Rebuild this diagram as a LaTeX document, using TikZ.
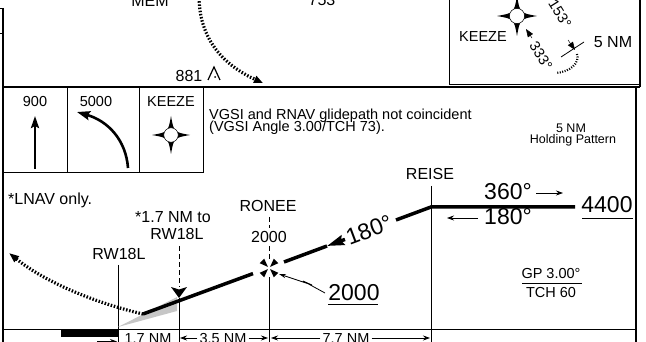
\documentclass[tikz,border=0pt]{standalone}
\usepackage{fontspec}
\setmainfont{Liberation Sans}
\usetikzlibrary{arrows.meta}

\tikzset{
  fixstar/.pic={
    \fill (1,0) .. controls (0.15,0.15) .. (0,1) .. controls (-0.15,0.15) .. (-1,0)
      .. controls (-0.15,-0.15) .. (0,-1) .. controls (0.15,-0.15) .. (1,0) -- cycle;
    \filldraw[fill=white, draw=black, line width=0.5pt] (0,0) circle (0.38);
  },
  fixcross/.pic={
    \foreach \a in {45,135,225,315}
      \fill[rotate=\a] (1.5,0) -- (10,-3.2) -- (10,3.2) -- cycle;
  }
}

\begin{document}
\begin{tikzpicture}[x=1pt, y=-1pt,
  every node/.style={inner sep=0pt},
  txttiny/.style={font=\fontsize{12.5}{14}\selectfont},
  txtsmall/.style={font=\fontsize{14.5}{16}\selectfont},
  txtmed/.style={font=\fontsize{16}{18}\selectfont},
  txtbig/.style={font=\fontsize{23}{25}\selectfont},
  borderline/.style={line width=2pt},
  ruleline/.style={line width=0.8pt},
  dashline/.style={line width=0.8pt, dash pattern=on 5pt off 3pt},
  course/.style={line width=3.5pt},
  rail/.style={line width=3.2pt, dash pattern=on 1.5pt off 1.7pt},
  railsmall/.style={line width=2.2pt, dash pattern=on 1pt off 1.5pt},
  thinarrow/.style={line width=0.8pt, -{Stealth[length=7pt,width=5pt]}}]
  \useasboundingbox (0,0) rectangle (646,342);
  \clip (0,0) rectangle (646,342);

  % frame
  \draw[ruleline] (0,8) -- (3,8);
  \draw[ruleline] (0,33) -- (2,33);
  \draw[borderline] (3,8) -- (3,342);
  \draw[borderline] (2,87) -- (640,87);
  \draw[ruleline] (449,0) -- (449,84) -- (640,84);
  \draw[borderline] (640,0) -- (640,87);
  \draw[borderline] (636,87) -- (636,342);
  \draw[ruleline] (3,329) -- (636,329);

  % plan view, upper panel
  \node[txtmed, anchor=base] (mem) at (150,7) {MEM};
  \node[txtmed, anchor=base] (alt753) at (322,6) {753};
  \coordinate (memin) at (199,-2);
  \coordinate (memout) at (263,83);
  \draw[rail, -{Triangle[length=9pt,width=7pt]}] (memin) .. controls (200,45) and (230,68) .. (memout);
  \node[txtmed, anchor=base] (obs881) at (189,82) {881};
  \coordinate (obs) at (214,67);
  \draw[line width=1.2pt] (208,80) -- (obs) -- (220,80);
  \fill (215,77) circle (1pt);

  % holding pattern at KEEZE
  \pic[scale=20] at (517,16) {fixstar};
  \node[txtsmall] (keezetop) at (483,37) {KEEZE};
  \node[txtsmall, rotate=-58] (crs153) at (560,14) {153°};
  \node[txtsmall, rotate=-58] (crs333) at (541,56) {333°};
  \coordinate (inb) at (532,38);
  \coordinate (inbtip) at (526,29);
  \draw[line width=0.5pt, -{Triangle[length=8pt,width=6pt]}] (inb) -- (inbtip);
  \coordinate (outb) at (568,40);
  \coordinate (outbtip) at (575,50);
  \draw[line width=0.5pt, -{Triangle[length=8pt,width=6pt]}] (outb) -- (outbtip);
  \coordinate (ticka) at (561,57);
  \coordinate (tickb) at (584,42);
  \draw[ruleline] (ticka) -- (tickb);
  \node[txtmed] (nm5top) at (613,42) {5 NM};
  \coordinate (turna) at (577,54);
  \coordinate (turnb) at (556,73);
  \draw[railsmall] (turna) .. controls (580,63) and (570,72) .. (turnb);

  % legend boxes
  \draw[ruleline] (3,172) -- (203,172) -- (203,87);
  \draw[ruleline] (67,87) -- (67,172);
  \draw[ruleline] (139,87) -- (139,172);
  \node[txtsmall, anchor=base] (alt900) at (35,107) {900};
  \coordinate (climb0) at (35,169);
  \coordinate (climb1) at (35,116);
  \draw[line width=2.6pt, -{Stealth[length=12pt,width=8pt,inset=2pt]}] (climb0) -- (climb1);
  \node[txtsmall, anchor=base] (alt5000) at (96,107) {5000};
  \coordinate (turn0) at (128,168);
  \coordinate (turn1) at (77,112);
  \draw[line width=2.6pt, -{Stealth[length=13pt,width=9pt,inset=2pt]}] (turn0) .. controls (126,140) and (108,121) .. (turn1);
  \node[txtsmall, anchor=base] (legkeeze) at (171,107) {KEEZE};
  \pic[scale=19] at (171,135) {fixstar};

  \node[txtsmall, anchor=base west] (note1) at (209,120) {VGSI and RNAV glidepath not coincident};
  \node[txtsmall, anchor=base west] (note2) at (209,132) {(VGSI Angle 3.00/TCH 73).};
  \node[txttiny, anchor=base] (holdnm) at (571,133) {5 NM};
  \node[txttiny, anchor=base] (holdpat) at (573,144) {Holding Pattern};

  % profile view
  \node[txtmed, anchor=base west] (lnav) at (8,205) {*LNAV only.};
  \node[txtmed, anchor=base] (fafnote) at (173,223) {*1.7 NM to};
  \node[txtmed, anchor=base] (fafrw) at (177,240) {RW18L};
  \node[txtmed, anchor=base] (rw18l) at (119,260) {RW18L};
  \node[txtmed, anchor=base] (ronee) at (268,212) {RONEE};
  \node[txtmed, anchor=base] (ronalt) at (269,243) {2000};
  \node[txtmed, anchor=base] (reise) at (430,180) {REISE};

  \coordinate (thr) at (118,265);
  \draw[ruleline] (thr) -- (118,342);
  \draw[dashline] (179,246) -- (179,287);
  \draw[ruleline] (179,298) -- (179,342);
  \draw[dashline] (269,217) -- (269,228);
  \draw[dashline] (269,246) -- (269,261);
  \draw[ruleline] (269,277) -- (269,342);
  \draw[ruleline] (431,186) -- (431,342);

  \fill[gray!45] (118,327) -- (177,297) -- (177,311) -- cycle;

  \coordinate (gpstart) at (143,314);
  \coordinate (gpa) at (253,273.6);
  \coordinate (gpb) at (284,262);
  \coordinate (gptip) at (327,246);
  \coordinate (gpbase) at (345,239.4);
  \coordinate (gpc) at (396,220);
  \coordinate (fix) at (431,207);
  \coordinate (holdend) at (575,207);
  \draw[course] (gpstart) -- (gpa);
  \draw[course] (gpb) -- (gptip);
  \draw[course, {Stealth[length=17pt,width=10pt,inset=2pt]}-] (gptip) -- (gpbase);
  \draw[course] (gpc) -- (fix) -- (holdend);
  \node[txtbig, rotate=20.6] (crs180a) at (369,230) {180°};

  \pic at (269,268) {fixcross};
  \fill (171,287) -- (179,289.5) -- (187,287) -- (179,298) -- cycle;

  \coordinate (missed) at (9,253);
  \draw[rail, -{Triangle[length=10pt,width=7pt]}] (gpstart) .. controls (95,303) and (45,282) .. (missed);

  \node[txtbig, anchor=base] (alt2000) at (354,301) {2000};
  \draw[ruleline] (alt2000.south west) ++(0,3) -- ++(50,0);
  \coordinate (bolt0) at (325,293);
  \coordinate (bolt1) at (303,281);
  \coordinate (bolt2) at (312,285);
  \coordinate (bolt3) at (279,274);
  \draw[line width=0.8pt, -{Stealth[length=7pt,width=4pt]}] (bolt0) -- (bolt1) -- (bolt2) -- (bolt3);

  \node[txtbig, anchor=base] (crs360) at (508,200) {360°};
  \coordinate (out0) at (536,193);
  \coordinate (out1) at (563,193);
  \draw[thinarrow] (out0) -- (out1);
  \node[txtbig, anchor=base] (crs180b) at (508,225) {180°};
  \coordinate (back0) at (478,218);
  \coordinate (back1) at (447,218);
  \draw[thinarrow] (back0) -- (back1);
  \node[txtbig, anchor=base] (alt4400) at (607,213) {4400};
  \draw[ruleline] (582,218) -- (633,218);

  \node[txtsmall, anchor=base] (gp) at (551,278) {GP 3.00°};
  \draw[ruleline] (522,283) -- (582,283);
  \node[txtsmall, anchor=base] (tch) at (551,297) {TCH 60};

  % distances
  \fill (61,329) rectangle (118,337);
  \node[txtsmall, anchor=base] (d17) at (148,343) {1.7 NM};
  \node[txtsmall, anchor=base] (d35) at (223,343) {3.5 NM};
  \node[txtsmall, anchor=base] (d77) at (346,343) {7.7 NM};
  \coordinate (a0) at (97,341.5);
  \coordinate (a1) at (117,341.5);
  \draw[thinarrow] (a0) -- (a1);
  \draw[thinarrow] (d35.west |- 0,338) ++(-2,0) -- (180,338);
  \draw[thinarrow] (d35.east |- 0,338) ++(2,0) -- (268,338);
  \draw[thinarrow] (d77.west |- 0,338) ++(-2,0) -- (271,338);
  \draw[thinarrow] (d77.east |- 0,338) ++(2,0) -- (430,338);
\end{tikzpicture}
\end{document}
